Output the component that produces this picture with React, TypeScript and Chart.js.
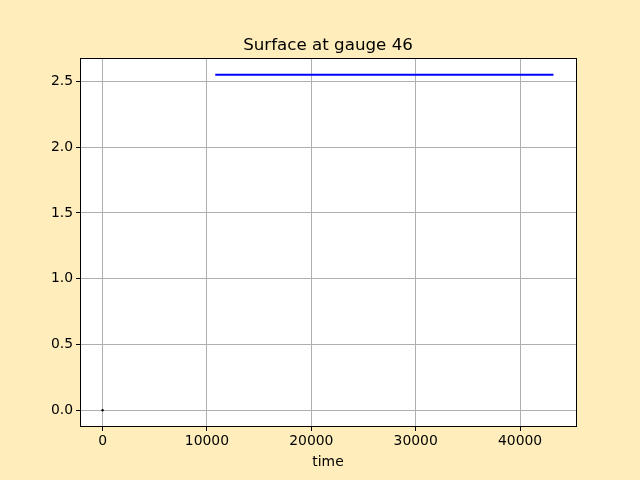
import React, { useEffect, useRef } from "react";
import { Chart, registerables } from "chart.js";

Chart.register(...registerables);

const titleText = "Surface at gauge 46";
const xLabel = "time";
const lineTimes = [10800, 43200];
const lineSurface = [2.55, 2.55];
const dotTimes = [0];
const dotSurface = [0];
const xTicks = [0, 10000, 20000, 30000, 40000];
const yTicks = [0, 0.5, 1.0, 1.5, 2.0, 2.5];

const FONT = "DejaVu Sans";

const framePlugin = {
  id: "frame",
  afterDraw(chart: any) {
    const { ctx, chartArea } = chart;
    const l = Math.round(chartArea.left);
    const r = Math.round(chartArea.right);
    const t = Math.round(chartArea.top);
    const b = Math.round(chartArea.bottom);
    ctx.save();
    ctx.strokeStyle = "#000";
    ctx.lineWidth = 1;
    ctx.strokeRect(l + 0.5, t + 0.5, r - l, b - t - 1);
    ctx.fillStyle = "#000";
    ctx.textAlign = "center";
    ctx.textBaseline = "alphabetic";
    ctx.font = `16.7px "${FONT}"`;
    const cx = (chartArea.left + chartArea.right) / 2;
    ctx.fillText(titleText, cx, 50);
    ctx.font = `13.9px "${FONT}"`;
    ctx.textBaseline = "middle";
    ctx.fillText(xLabel, cx, 462);
    ctx.restore();
  },
  beforeDraw(chart: any) {
    const { ctx, chartArea } = chart;
    ctx.save();
    ctx.fillStyle = "#ffeebb";
    ctx.fillRect(0, 0, chart.width, chart.height);
    ctx.fillStyle = "#ffffff";
    ctx.fillRect(chartArea.left, chartArea.top, chartArea.right - chartArea.left, chartArea.bottom - chartArea.top);
    ctx.restore();
  },
};

export default function App() {
  const ref = useRef<HTMLCanvasElement | null>(null);
  useEffect(() => {
    document.body.style.margin = "0";
    const canvas = ref.current!;
    const chart = new Chart(canvas, {
      type: "line",
      data: {
        datasets: [
          {
            data: lineTimes.map((t, i) => ({ x: t, y: lineSurface[i] })),
            borderColor: "#0000ff",
            borderWidth: 2,
            pointRadius: 0,
            fill: false,
          },
          {
            data: dotTimes.map((t, i) => ({ x: t, y: dotSurface[i] })),
            borderColor: "#000000",
            backgroundColor: "#000000",
            showLine: false,
            pointRadius: 1.2,
            pointBorderWidth: 0,
          },
        ],
      },
      options: {
        animation: false,
        responsive: false,
        layout: { padding: { top: 58, right: 64, left: 0, bottom: 0 } },
        plugins: {
          legend: { display: false },
          title: { display: false },
          tooltip: { enabled: false },
        },
        scales: {
          x: {
            type: "linear",
            min: -2160,
            max: 45360,
            afterFit(scale: any) {
              scale.height = 53;
            },
            afterBuildTicks(scale: any) {
              scale.ticks = xTicks.map((v) => ({ value: v }));
            },
            grid: {
              color: "#b0b0b0",
              lineWidth: 1,
              tickColor: "#000",
              tickLength: 4,
              drawTicks: true,
            },
            border: { display: false },
            ticks: {
              color: "#000",
              padding: 2,
              maxRotation: 0,
              font: { family: FONT, size: 13.9 },
              callback: (v: any) => String(v),
            },
          },
          y: {
            type: "linear",
            min: -0.1275,
            max: 2.6775,
            afterFit(scale: any) {
              scale.width = 80;
            },
            afterBuildTicks(scale: any) {
              scale.ticks = yTicks.map((v) => ({ value: v }));
            },
            grid: {
              color: "#b0b0b0",
              lineWidth: 1,
              tickColor: "#000",
              tickLength: 4,
              drawTicks: true,
            },
            border: { display: false },
            ticks: {
              color: "#000",
              padding: 3,
              font: { family: FONT, size: 13.9 },
              callback: (v: any) => Number(v).toFixed(1),
            },
          },
        },
      },
      plugins: [framePlugin],
    });
    return () => chart.destroy();
  }, []);
  return (
    <div style={{ width: 640, height: 480 }}>
      <canvas ref={ref} width={640} height={480} style={{ display: "block" }} />
    </div>
  );
}
